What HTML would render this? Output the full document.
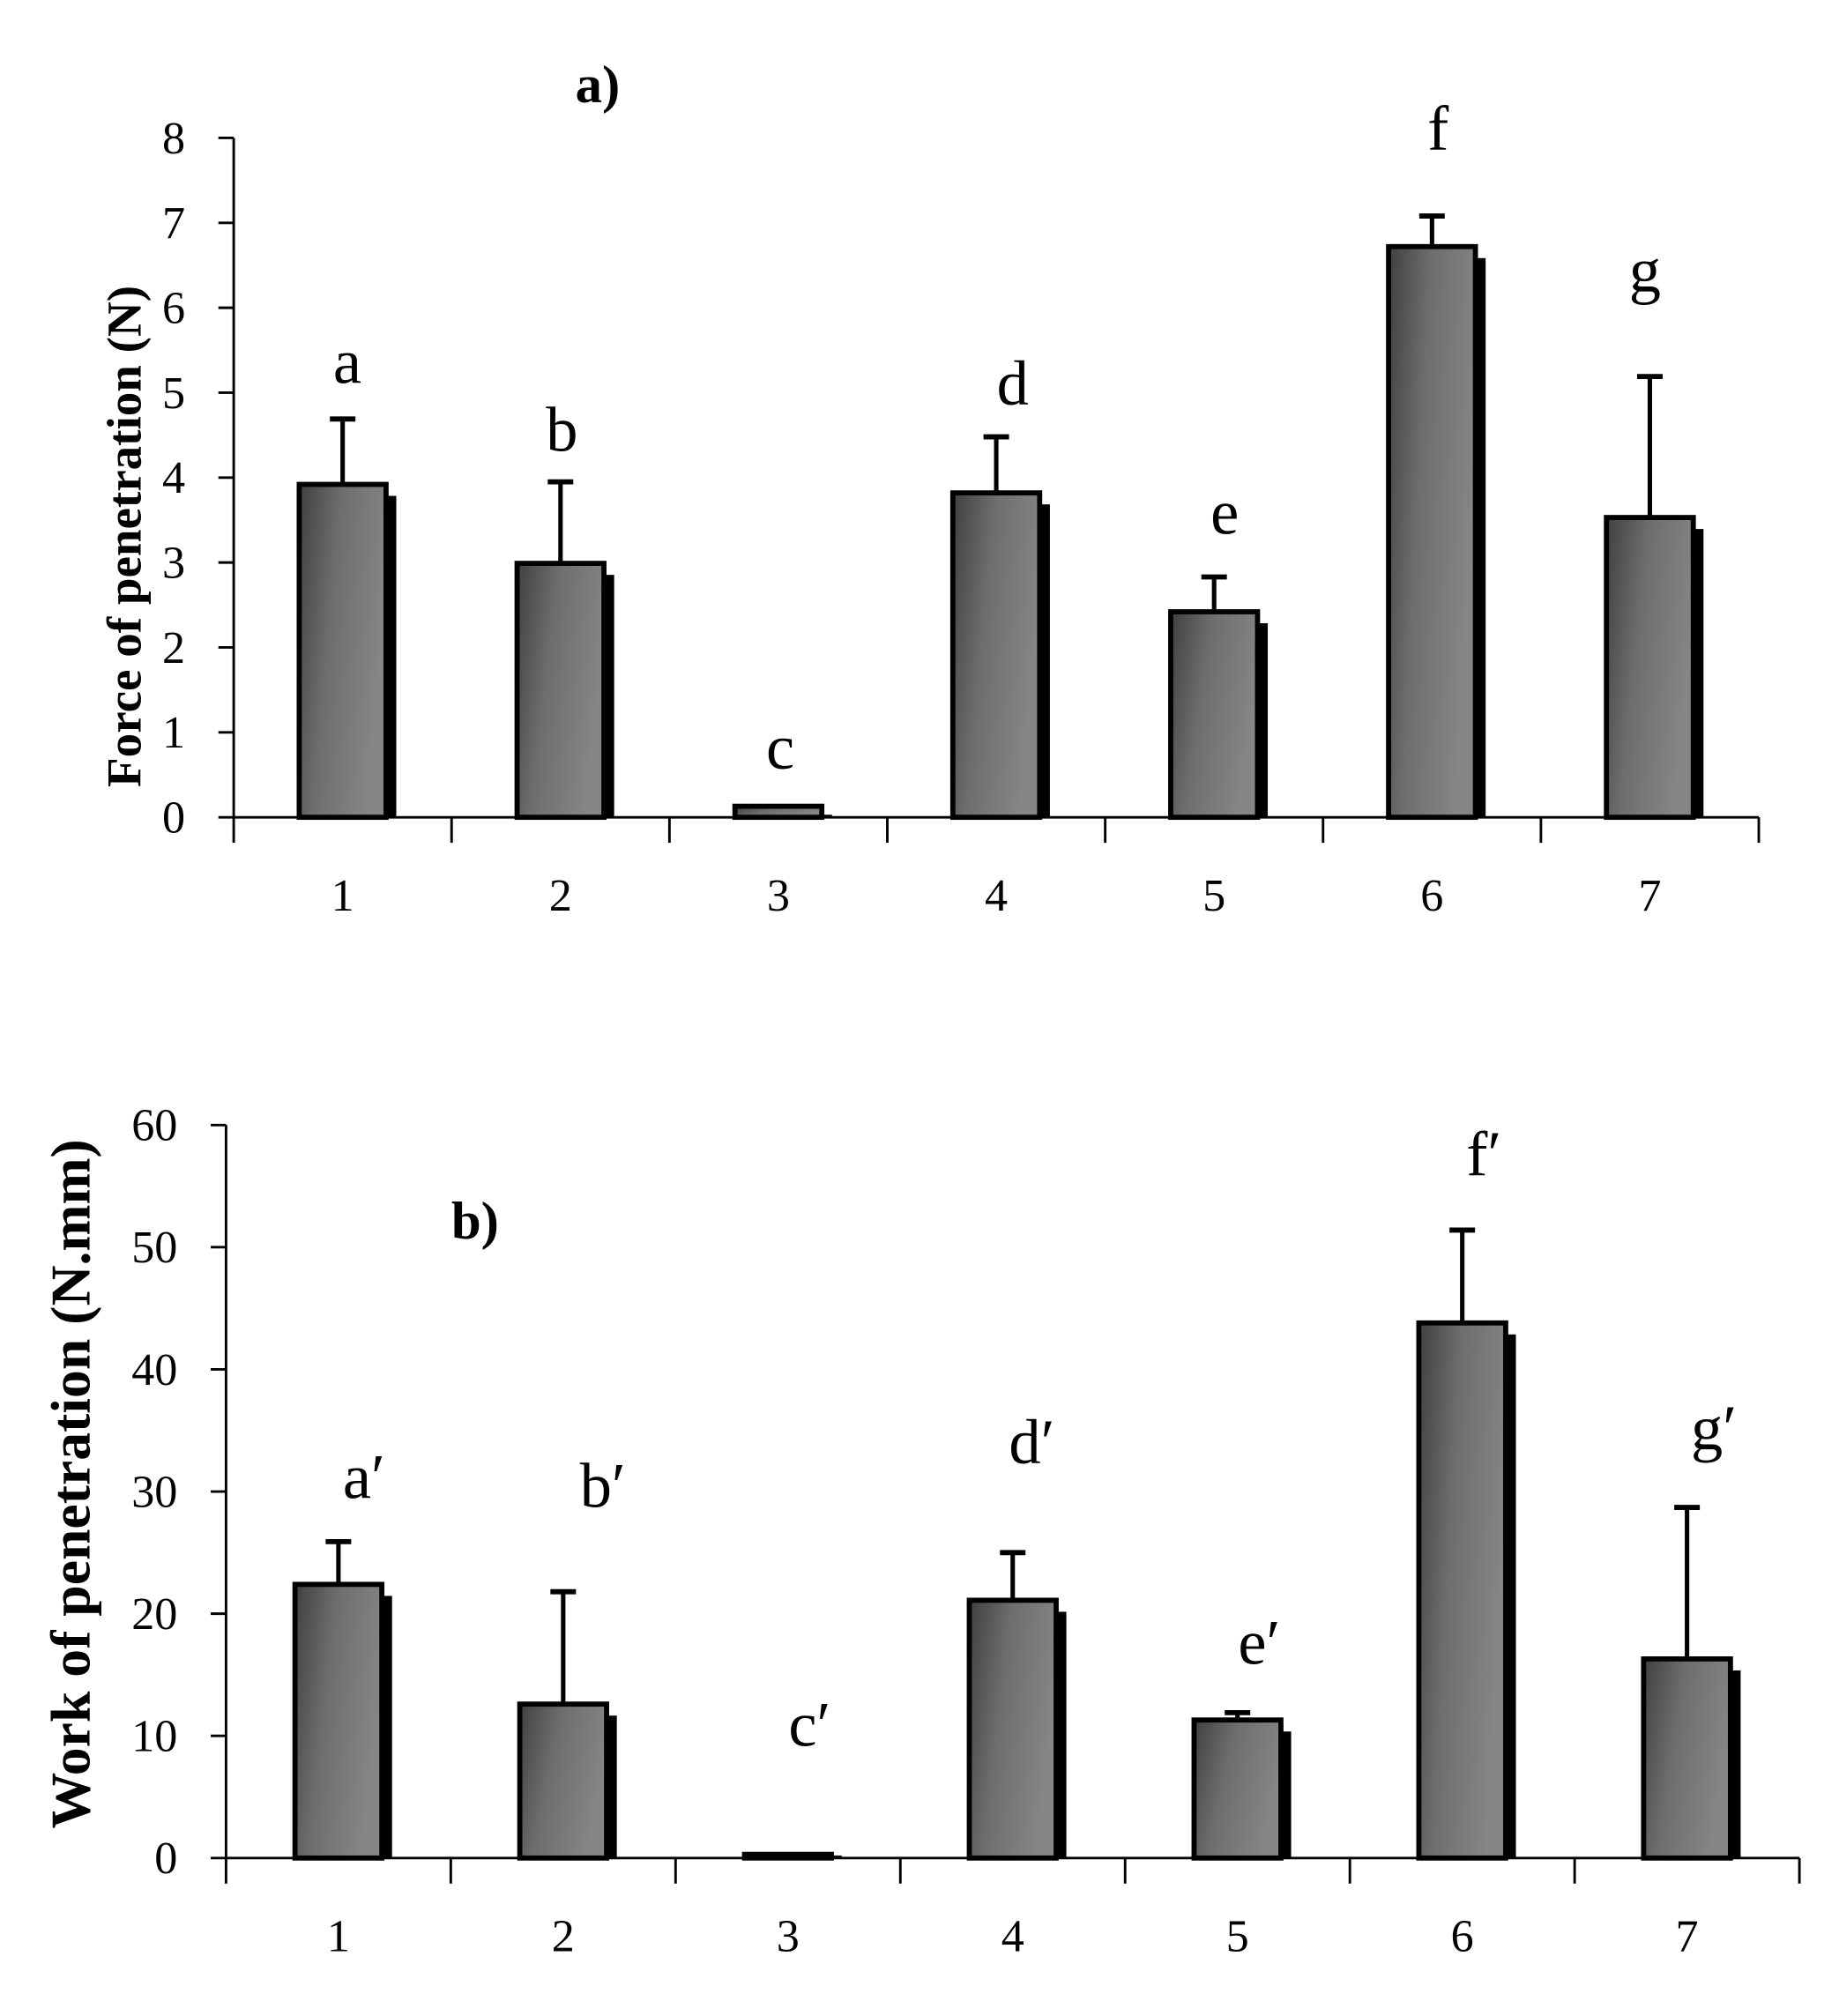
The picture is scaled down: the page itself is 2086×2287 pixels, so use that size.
<!DOCTYPE html>
<html><head><meta charset="utf-8"><style>
html,body{margin:0;padding:0;background:#fff;}
svg{display:block;}
text{font-family:"Liberation Serif",serif;fill:#000;}
</style></head>
<body>
<svg id="fig" width="2086" height="2287" viewBox="0 0 1440 1578.7" preserveAspectRatio="none" xmlns="http://www.w3.org/2000/svg">
<defs>
<linearGradient id="barGrad" x1="0" y1="0" x2="1" y2="0.35">
<stop offset="0" stop-color="#404040"/>
<stop offset="0.45" stop-color="#6e6e6e"/>
<stop offset="1" stop-color="#858585"/>
</linearGradient>
</defs>
<g id="chartA"></g>
<g id="chartB"></g>
</svg>
<script>
const categories = ["1","2","3","4","5","6","7"];
const forceValues = [3.92, 2.99, 0.13, 3.82, 2.42, 6.72, 3.53];
const forceErrors = [0.77, 0.96, 0, 0.66, 0.41, 0.36, 1.66];
const forceLetters = ["a","b","c","d","e","f","g"];
const forceTicks = [0,1,2,3,4,5,6,7,8];
const workValues = [22.4, 12.6, 0.3, 21.1, 11.3, 43.8, 16.3];
const workErrors = [3.5, 9.2, 0, 3.9, 0.6, 7.6, 12.4];
const workLetters = ["a\u2032","b\u2032","c\u2032","d\u2032","e\u2032","f\u2032","g\u2032"];
const workTicks = [0,10,20,30,40,50,60];

const NS = "http://www.w3.org/2000/svg";
function mk(parent, tag, attrs, txt){
  const e = document.createElementNS(NS, tag);
  for (const k in attrs) e.setAttribute(k, attrs[k]);
  if (txt !== undefined) e.textContent = txt;
  parent.appendChild(e);
  return e;
}

function drawChart(g, cfg, values, errors, letters, ticks){
  const yScale = v => cfg.y0 - (v - cfg.min) / (cfg.max - cfg.min) * (cfg.y0 - cfg.yTop);
  const xBand = i => cfg.x0 + i * cfg.step;
  const yAxis = mk(g, "line", {x1:cfg.x0, y1:cfg.yTop, x2:cfg.x0, y2:cfg.y0, stroke:"#000","stroke-width":2});
  
  
  ticks.forEach(t => {
    const y = yScale(t);
    const tk = mk(g, "line", {x1:cfg.x0-12, y1:y, x2:cfg.x0, y2:y, stroke:"#000","stroke-width":2});
    
    
    const tl = mk(g, "text", {x:cfg.x0-38, y:y+12, "text-anchor":"end","font-size":36}, String(t));
    
    
  });
  const xAxis = mk(g, "line", {x1:cfg.x0, y1:cfg.y0, x2:xBand(categories.length), y2:cfg.y0, stroke:"#000","stroke-width":2});
  
  
  for (let i = 0; i <= categories.length; i++){
    const xt = mk(g, "line", {x1:xBand(i), y1:cfg.y0, x2:xBand(i), y2:cfg.y0+20, stroke:"#000","stroke-width":2});
    
    
  }
  categories.forEach((c, i) => {
    const cx = xBand(i) + cfg.step/2;
    const xl = mk(g, "text", {x:cx, y:cfg.y0+73, "text-anchor":"middle","font-size":36}, c);
    
    
    const top = yScale(values[i]);
    const bx = cx - cfg.bw/2;
    const h = cfg.y0 - top;
    const sh = mk(g, "rect", {x:bx+cfg.bw-2, y:Math.min(top+9, cfg.y0-2), width:10, height:Math.max(cfg.y0-top-9, 2), fill:"#000"});
    
    
    const bar = mk(g, "rect", {x:bx, y:top, width:cfg.bw, height:Math.max(h,1), fill:"url(#barGrad)", stroke:"#000","stroke-width":4});
    
    
    if (errors[i] > 0){
      const ye = yScale(values[i] + errors[i]);
      const el = mk(g, "line", {x1:cx, y1:top, x2:cx, y2:ye, stroke:"#000","stroke-width":3.5});
      
      
      const ec = mk(g, "line", {x1:cx-10, y1:ye, x2:cx+10, y2:ye, stroke:"#000","stroke-width":4});
      
      
    }
    const lt = mk(g, "text", {x:cfg.letterX[i], y:cfg.letterY[i], "text-anchor":"middle","font-size":50}, letters[i]);
    
    
  });
  const title = mk(g, "text", {x:cfg.titleX, y:cfg.titleY, "text-anchor":"middle","font-size":42,"font-weight":"bold"}, cfg.title);
  
  
  const yl = mk(g, "text", {x:0, y:0, "text-anchor":"middle","font-size":cfg.ylabSize,"font-weight":"bold",
    transform:"translate(" + cfg.ylabX + "," + cfg.ylabY + ") rotate(-90)"}, cfg.ylabel);
  
  
}

drawChart(document.getElementById("chartA"), {
  x0:183, step:170.6, y0:640, yTop:108, min:0, max:8, bw:68,
  letterX:[272,440,611,793,959,1126,1288],
  letterY:[300,353,602,317,418,117,228],
  title:"a)", titleX:468, titleY:80,
  ylabel:"Force of penetration (N)", ylabX:110, ylabY:420, ylabSize:38
}, forceValues, forceErrors, forceLetters, forceTicks);

drawChart(document.getElementById("chartB"), {
  x0:177, step:176, y0:1455, yTop:881, min:0, max:60, bw:68,
  letterX:[285,472,634,808,986,1162,1342],
  letterY:[1173,1180,1367,1146,1303,920,1135],
  title:"b)", titleX:372, titleY:970,
  ylabel:"Work of penetration (N.mm)", ylabX:70, ylabY:1162, ylabSize:44
}, workValues, workErrors, workLetters, workTicks);
</script>
</body></html>
